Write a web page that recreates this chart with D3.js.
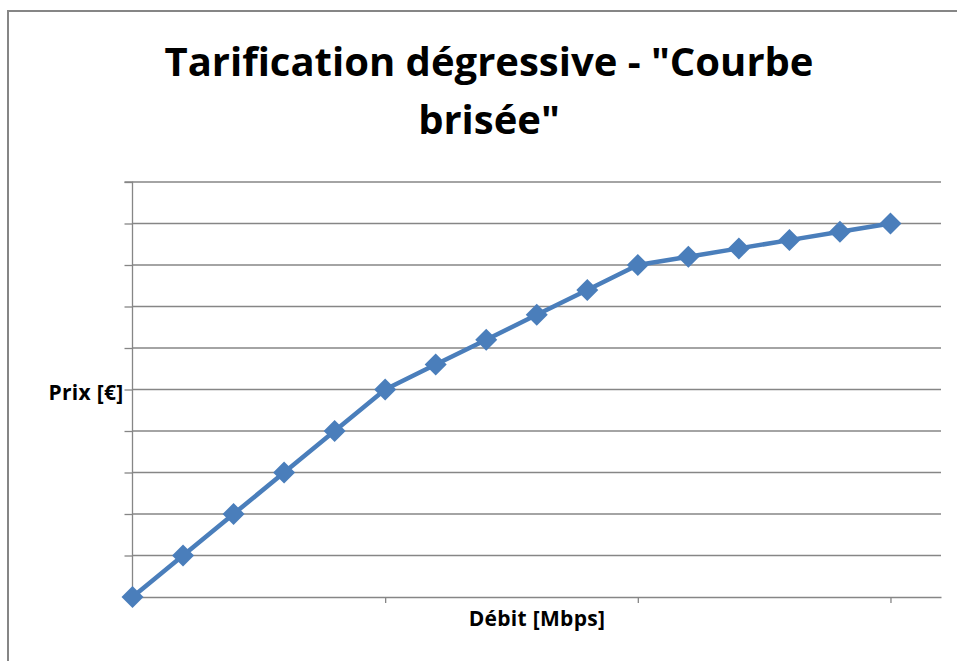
<!DOCTYPE html>
<html>
<head>
<meta charset="utf-8">
<script src="https://cdnjs.cloudflare.com/ajax/libs/d3/7.8.5/d3.min.js"></script>
<style>
  body { margin: 0; background: #fff; }
  svg text { font-family: "Open Sans", "DejaVu Sans", sans-serif; font-weight: bold; fill: #000; }
</style>
</head>
<body>
<div id="chart"></div>
<script>
// data
let debit = [0, 1, 2, 3, 4, 5, 6, 7, 8, 9, 10, 11, 12, 13, 14, 15];
let prix = [0, 1, 2, 3, 4, 5, 5.6, 6.2, 6.8, 7.4, 8, 8.2, 8.4, 8.6, 8.8, 9];
let xTicks = [0, 5, 10, 15];
let yTicks = [0, 1, 2, 3, 4, 5, 6, 7, 8, 9, 10];
let titleLines = ["Tarification dégressive - \"Courbe", "brisée\""];

let width = 957;
let height = 661;

let svg = d3.select("#chart")
    .append("svg")
    .attr("width", width)
    .attr("height", height);

// outer frame (right and bottom edges fall outside the picture)
svg.append("rect")
    .attr("x", 8)
    .attr("y", 11)
    .attr("width", 1000)
    .attr("height", 700)
    .attr("fill", "none")
    .attr("stroke", "#868686")
    .attr("stroke-width", 2);

// title
svg.append("text")
    .attr("x", 489)
    .attr("text-anchor", "middle")
    .attr("font-size", 40)
    .selectAll("tspan")
    .data(titleLines)
    .enter()
    .append("tspan")
    .attr("x", 489)
    .attr("y", (d, i) => 76 + i * 58)
    .text(d => d);

let x = d3.scaleLinear().domain([0, 16]).range([132.5, 941]);
let y = d3.scaleLinear().domain([0, 10]).range([597, 182]);

// horizontal gridlines
svg.append("g")
    .selectAll("line")
    .data(yTicks.slice(1))
    .enter()
    .append("line")
    .attr("x1", x(0))
    .attr("x2", x(16))
    .attr("y1", d => y(d))
    .attr("y2", d => y(d))
    .attr("stroke", "#868686")
    .attr("stroke-width", 1.3);

// y axis
let yAxis = svg.append("g")
    .attr("transform", `translate(${x(0)}, 0)`)
    .call(d3.axisLeft(y).tickValues(yTicks).tickSize(8).tickFormat(""));

// x axis
let xAxis = svg.append("g")
    .attr("transform", `translate(0, ${y(0)})`)
    .call(d3.axisBottom(x).tickValues(xTicks).tickSize(6).tickSizeOuter(0).tickFormat(""));

[yAxis, xAxis].forEach(a => {
    a.select(".domain").attr("stroke", "#868686").attr("stroke-width", 1.3);
    a.selectAll(".tick line").attr("stroke", "#868686").attr("stroke-width", 1.3);
});
yAxis.select(".domain").attr("d", `M-8,${y(10)}H0V${y(0)}`);

// axis titles
svg.append("text")
    .attr("x", 86)
    .attr("y", 400)
    .attr("text-anchor", "middle")
    .attr("font-size", 21)
    .attr("letter-spacing", 0.3)
    .text("Prix [€]");

svg.append("text")
    .attr("x", 537)
    .attr("y", 626)
    .attr("text-anchor", "middle")
    .attr("font-size", 21)
    .attr("letter-spacing", 0.3)
    .text("Débit [Mbps]");

// line
let points = debit.map((d, i) => [d, prix[i]]);
let line = d3.line().x(d => x(d[0])).y(d => y(d[1]));

svg.append("path")
    .datum(points)
    .attr("d", line)
    .attr("fill", "none")
    .attr("stroke", "#4a7ebb")
    .attr("stroke-width", 4.5)
    .attr("stroke-linejoin", "round");

// diamond markers
svg.append("g")
    .selectAll("path")
    .data(points)
    .enter()
    .append("path")
    .attr("transform", d => `translate(${x(d[0])}, ${y(d[1])})`)
    .attr("d", "M0,-11L11,0L0,11L-11,0Z")
    .attr("fill", "#4a7ebb");
</script>
</body>
</html>
